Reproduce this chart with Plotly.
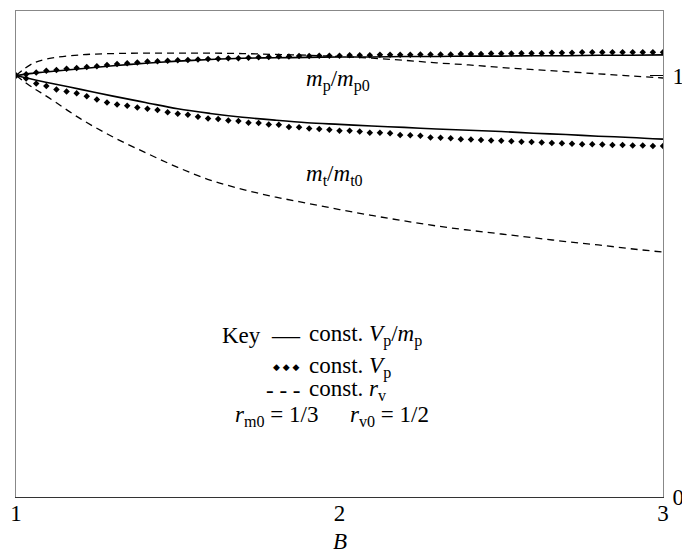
import plotly.graph_objects as go

# ---------------- data ----------------
B_LINE = [1.0, 1.05, 1.1, 1.2, 1.3, 1.4, 1.5, 1.6, 1.7, 1.8, 1.9, 2.0,
          2.1, 2.2, 2.3, 2.4, 2.5, 2.6, 2.7, 2.8, 2.9, 3.0]
# m_p/m_p0
MP_CONST_VP_MP = [1.0, 1.005, 1.009, 1.016, 1.023, 1.029, 1.034, 1.038, 1.041, 1.042, 1.043,
                  1.044, 1.044, 1.045, 1.045, 1.046, 1.046, 1.047, 1.047, 1.048, 1.048, 1.049]
MP_CONST_RV = [1.0, 1.028, 1.040, 1.049, 1.052, 1.053, 1.053, 1.053, 1.052, 1.050, 1.048,
               1.045, 1.041, 1.036, 1.030, 1.025, 1.019, 1.014, 1.009, 1.004, 0.999, 0.994]
# m_t/m_t0
MT_CONST_VP_MP = [1.0, 0.991, 0.983, 0.967, 0.951, 0.936, 0.921, 0.910, 0.901, 0.894, 0.888,
                  0.884, 0.880, 0.877, 0.873, 0.870, 0.867, 0.863, 0.860, 0.856, 0.853, 0.849]
MT_CONST_RV = [1.0, 0.972, 0.948, 0.897, 0.854, 0.817, 0.782, 0.752, 0.730, 0.712, 0.697,
               0.682, 0.668, 0.655, 0.643, 0.633, 0.624, 0.615, 0.606, 0.598, 0.589, 0.581]

B_DIAMOND = [1.0, 1.03125, 1.0625, 1.09375, 1.125, 1.15625, 1.1875, 1.21875, 1.25, 1.28125,
             1.3125, 1.34375, 1.375, 1.40625, 1.4375, 1.46875, 1.5, 1.53125, 1.5625, 1.59375,
             1.625, 1.65625, 1.6875, 1.71875, 1.75, 1.78125, 1.8125, 1.84375, 1.875, 1.90625,
             1.9375, 1.96875, 2.0, 2.03125, 2.0625, 2.09375, 2.125, 2.15625, 2.1875, 2.21875,
             2.25, 2.28125, 2.3125, 2.34375, 2.375, 2.40625, 2.4375, 2.46875, 2.5, 2.53125,
             2.5625, 2.59375, 2.625, 2.65625, 2.6875, 2.71875, 2.75, 2.78125, 2.8125, 2.84375,
             2.875, 2.90625, 2.9375, 2.96875, 3.0]
MP_CONST_VP = [1.000, 1.003, 1.007, 1.011, 1.013, 1.016, 1.018, 1.020, 1.022, 1.025,
               1.027, 1.029, 1.031, 1.033, 1.034, 1.035, 1.036, 1.037, 1.038, 1.039,
               1.040, 1.041, 1.041, 1.042, 1.043, 1.044, 1.045, 1.045, 1.046, 1.046,
               1.047, 1.047, 1.047, 1.048, 1.048, 1.048, 1.049, 1.049, 1.049, 1.049,
               1.050, 1.050, 1.050, 1.050, 1.051, 1.051, 1.051, 1.052, 1.052, 1.052,
               1.053, 1.053, 1.053, 1.054, 1.054, 1.054, 1.055, 1.055, 1.055, 1.055,
               1.055, 1.055, 1.055, 1.055, 1.055]
MT_CONST_VP = [1.000, 0.993, 0.981, 0.975, 0.967, 0.962, 0.958, 0.951, 0.943, 0.936,
               0.931, 0.928, 0.924, 0.921, 0.918, 0.913, 0.909, 0.907, 0.902, 0.898,
               0.897, 0.893, 0.892, 0.888, 0.887, 0.884, 0.883, 0.878, 0.877, 0.874,
               0.873, 0.871, 0.869, 0.869, 0.867, 0.864, 0.864, 0.863, 0.859, 0.858,
               0.857, 0.853, 0.852, 0.851, 0.849, 0.848, 0.847, 0.846, 0.845, 0.844,
               0.843, 0.842, 0.841, 0.840, 0.839, 0.838, 0.837, 0.837, 0.836, 0.835,
               0.835, 0.834, 0.834, 0.833, 0.833]

X_TICKS = [1, 2, 3]
Y_TICKS_RIGHT = [0, 1]
Y_TICKTEXT_RIGHT = ["0", "1"]
Y_MAX = 1.153

SERIF = "Liberation Serif"
FS = 23

fig = go.Figure()

solid = dict(color="black", width=1.6)
dashed = dict(color="black", width=1.3, dash="7px,5px")

for ys in (MP_CONST_VP_MP, MT_CONST_VP_MP):
    fig.add_trace(go.Scatter(x=B_LINE, y=ys, mode="lines", line=solid,
                             line_shape="spline", showlegend=False, hoverinfo="skip"))
for ys in (MP_CONST_RV, MT_CONST_RV):
    fig.add_trace(go.Scatter(x=B_LINE, y=ys, mode="lines", line=dashed,
                             line_shape="spline", showlegend=False, hoverinfo="skip"))
for ys in (MP_CONST_VP, MT_CONST_VP):
    fig.add_trace(go.Scatter(x=B_DIAMOND, y=ys, mode="markers",
                             marker=dict(symbol="diamond", size=5.0, color="black",
                                         line=dict(width=0)),
                             showlegend=False, hoverinfo="skip"))

# dummy trace so the mirrored top / right axes are drawn
fig.add_trace(go.Scatter(x=[None], y=[None], xaxis="x2", yaxis="y2",
                         showlegend=False, hoverinfo="skip"))

fig.update_layout(
    width=682, height=555,
    margin=dict(l=16, r=19, t=11, b=58, autoexpand=False),
    plot_bgcolor="white", paper_bgcolor="white",
    font=dict(family=SERIF, size=FS, color="black"),
    showlegend=False,
    xaxis=dict(range=[1, 3], tickvals=X_TICKS, ticks="", showgrid=False, zeroline=False,
               showline=True, linecolor="#333", linewidth=1, automargin=False,
               ticklabelstandoff=-5, tickfont=dict(family=SERIF, size=FS)),
    xaxis2=dict(range=[1, 3], overlaying="x", side="top", showline=True,
                linecolor="#888", linewidth=1, showticklabels=False, ticks="",
                showgrid=False, zeroline=False, automargin=False),
    yaxis=dict(range=[0, Y_MAX], tickvals=[0, Y_MAX], ticks="inside", ticklen=15,
               tickwidth=2, tickcolor="black", showticklabels=False, showgrid=False,
               zeroline=False, showline=True, linecolor="#888", linewidth=1,
               automargin=False),
    yaxis2=dict(range=[0, Y_MAX], overlaying="y", side="right", tickvals=Y_TICKS_RIGHT,
                ticktext=Y_TICKTEXT_RIGHT, ticks="inside", ticklen=13, tickwidth=1,
                tickcolor="black", showgrid=False, zeroline=False, showline=True,
                linecolor="#888", linewidth=1, ticklabelstandoff=4, automargin=False,
                tickfont=dict(family=SERIF, size=FS)),
)

ann = dict(showarrow=False, font=dict(family=SERIF, size=FS, color="black"))

fig.add_annotation(x=1.995, y=0.988, text="<i>m</i><sub>p</sub>/<i>m</i><sub>p0</sub>", **ann)
fig.add_annotation(x=1.983, y=0.764, text="<i>m</i><sub>t</sub>/<i>m</i><sub>t0</sub>", **ann)
fig.add_annotation(x=2, xref="x", y=0, yref="paper", yanchor="middle", yshift=-44,
                   text="<i>B</i>", **ann)

# key block
fig.add_annotation(x=1.7635, y=0.384, xanchor="right", text="Key", **ann)
fig.add_annotation(x=1.886, y=0.386, xanchor="right", text="—",
                   showarrow=False, font=dict(family=SERIF, size=28, color="black"))
fig.add_annotation(x=1.8995, y=0.384, xanchor="left",
                   text="const. <i>V</i><sub>p</sub>/<i>m</i><sub>p</sub>", **ann)
fig.add_annotation(x=1.884, y=0.3084, xanchor="right", text="◆ ◆ ◆",
                   showarrow=False, font=dict(family="DejaVu Sans", size=9, color="black"))
fig.add_annotation(x=1.8995, y=0.3084, xanchor="left",
                   text="const. <i>V</i><sub>p</sub>", **ann)
fig.add_annotation(x=1.884, y=0.2538, xanchor="right", text="- - -", **ann)
fig.add_annotation(x=1.8995, y=0.2538, xanchor="left",
                   text="const. <i>r</i><sub>v</sub>", **ann)
fig.add_annotation(x=1.804, y=0.1925, text="<i>r</i><sub>m0</sub> = 1/3", **ann)
fig.add_annotation(x=2.156, y=0.1925, text="<i>r</i><sub>v0</sub> = 1/2", **ann)

fig.write_html("out.html", config={"displayModeBar": False},
               post_script="document.body.style.margin='0';")
